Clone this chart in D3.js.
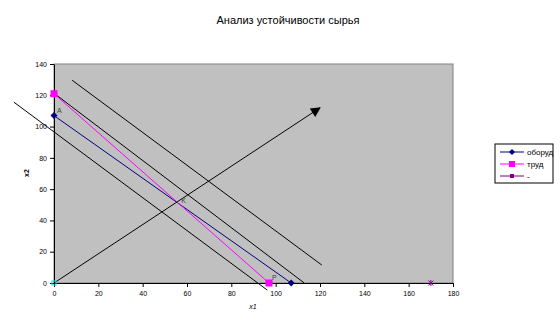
<!DOCTYPE html>
<html>
<head>
<meta charset="utf-8">
<script src="https://cdn.jsdelivr.net/npm/d3@7"></script>
<style>
  body { margin: 0; background: #fff; }
  text { font-family: "Liberation Sans", Arial, sans-serif; }
</style>
</head>
<body>
<div id="chart"></div>
<script>
// series from the chart
var seriesNames = ["оборуд", "труд", "-"];
var oborudPts = [[0, 107], [107, 0]];
var trudPts = [[0, 121], [97, 0]];
var thirdPts = [[170, 0]];
// drawn lines (level lines and objective arrow)
var levelLine1 = [[8.2, 129.6], [120.8, 11.5]];
var levelLine2 = [[0, 121.3], [112.9, 0]];
var levelLine3 = [[-18.1, 115.6], [96.2, -4.5]];
var arrowPts = [[0, 0], [120, 112]];
// point labels
var pointLabels = [
  { name: "A", x: 0, y: 107 },
  { name: "P", x: 97, y: 0 },
  { name: "K", x: 56, y: 49 }
];
var xTicks = [0, 20, 40, 60, 80, 100, 120, 140, 160, 180];
var yTicks = [0, 20, 40, 60, 80, 100, 120, 140];

function init() {
    var svgWidth = 560, svgHeight = 329;
    var left = 54, right = 453, top = 64, bottom = 283;

    var xScale = d3.scaleLinear().domain([0, 180]).range([left, right]);
    var yScale = d3.scaleLinear().domain([0, 140]).range([bottom, top]);

    var svg = d3.select("#chart").append("svg")
        .attr("width", svgWidth)
        .attr("height", svgHeight);

    var defs = svg.append("defs");
    defs.append("marker")
        .attr("id", "arrowhead")
        .attr("viewBox", "0 0 10 10")
        .attr("refX", 9).attr("refY", 5)
        .attr("markerWidth", 12).attr("markerHeight", 10)
        .attr("markerUnits", "userSpaceOnUse")
        .attr("orient", "auto")
        .append("path")
        .attr("d", "M0,0L10,5L0,10Z")
        .attr("fill", "#000");

    // title
    svg.append("text")
        .attr("x", 288).attr("y", 24)
        .attr("text-anchor", "middle")
        .attr("font-size", "11px")
        .text("Анализ устойчивости сырья");

    // plot area
    svg.append("rect")
        .attr("x", left).attr("y", top)
        .attr("width", right - left).attr("height", bottom - top)
        .attr("fill", "#c0c0c0")
        .attr("stroke", "#808080")
        .attr("stroke-width", 1);

    // axes
    var xAxis = d3.axisBottom(xScale).tickValues(xTicks).tickSize(4).tickSizeOuter(0);
    var gx = svg.append("g")
        .attr("transform", "translate(0," + bottom + ")")
        .call(xAxis);
    var yAxis = d3.axisLeft(yScale).tickValues(yTicks).tickSize(4).tickSizeOuter(0);
    var gy = svg.append("g")
        .attr("transform", "translate(" + left + ",0)")
        .call(yAxis);
    [gx, gy].forEach(function(g) {
        g.select(".domain").attr("stroke", "#000");
        g.selectAll(".tick line").attr("stroke", "#000");
        g.selectAll("text")
            .attr("font-size", "7px")
            .attr("font-family", "Liberation Sans, Arial, sans-serif")
            .attr("fill", "#000");
    });
    gx.selectAll("text").attr("dy", "0.9em");

    // axis titles
    svg.append("text")
        .attr("x", 253).attr("y", 309)
        .attr("text-anchor", "middle")
        .attr("font-size", "7px")
        .attr("font-style", "italic")
        .text("x1");
    svg.append("text")
        .attr("transform", "translate(29,173) rotate(-90)")
        .attr("text-anchor", "middle")
        .attr("font-size", "7px")
        .attr("font-weight", "bold")
        .text("x2");

    var line = d3.line().x(d => xScale(d[0])).y(d => yScale(d[1]));

    // level lines
    [levelLine1, levelLine2, levelLine3].forEach(function(pts) {
        svg.append("path")
            .attr("d", line(pts))
            .attr("fill", "none")
            .attr("stroke", "#000")
            .attr("stroke-width", 1);
    });

    // series
    svg.append("path")
        .attr("d", line(oborudPts))
        .attr("fill", "none")
        .attr("stroke", "#000080")
        .attr("stroke-width", 1);
    svg.append("path")
        .attr("d", line(trudPts))
        .attr("fill", "none")
        .attr("stroke", "#ff00ff")
        .attr("stroke-width", 1);

    // objective arrow
    svg.append("path")
        .attr("d", line(arrowPts))
        .attr("fill", "none")
        .attr("stroke", "#000")
        .attr("stroke-width", 1)
        .attr("marker-end", "url(#arrowhead)");
    svg.append("rect")
        .attr("x", xScale(0) - 2).attr("y", yScale(0) - 2)
        .attr("width", 4).attr("height", 4)
        .attr("fill", "none").attr("stroke", "#00e0e0");

    // markers
    svg.selectAll(".diamond")
        .data(oborudPts).enter()
        .append("path")
        .attr("class", "diamond")
        .attr("transform", d => "translate(" + xScale(d[0]) + "," + yScale(d[1]) + ")")
        .attr("d", "M0,-3.5L3.5,0L0,3.5L-3.5,0Z")
        .attr("fill", "#000080");
    svg.selectAll(".square")
        .data(trudPts).enter()
        .append("rect")
        .attr("class", "square")
        .attr("x", d => xScale(d[0]) - 3.5)
        .attr("y", d => yScale(d[1]) - 3.5)
        .attr("width", 7).attr("height", 7)
        .attr("fill", "#ff00ff");
    svg.selectAll(".star")
        .data(thirdPts).enter()
        .append("path")
        .attr("class", "star")
        .attr("transform", d => "translate(" + xScale(d[0]) + "," + yScale(d[1]) + ")")
        .attr("d", "M-2.5,-2.5L2.5,2.5M-2.5,2.5L2.5,-2.5M0,-3L0,3")
        .attr("stroke", "#800080")
        .attr("stroke-width", 1);

    // point labels
    svg.selectAll(".plabel")
        .data(pointLabels).enter()
        .append("text")
        .attr("class", "plabel")
        .attr("x", d => xScale(d.x) + 3)
        .attr("y", d => yScale(d.y) - 3)
        .attr("font-size", "7px")
        .attr("fill", "#404040")
        .text(d => d.name);

    // legend
    var legX = 495, legY = 144;
    svg.append("rect")
        .attr("x", legX).attr("y", legY)
        .attr("width", 58).attr("height", 39)
        .attr("fill", "#fff")
        .attr("stroke", "#000");
    var legColors = ["#000080", "#ff00ff", "#800080"];
    var legend = svg.selectAll(".legend")
        .data(seriesNames).enter()
        .append("g")
        .attr("class", "legend")
        .attr("transform", (d, i) => "translate(" + (legX + 5) + "," + (legY + 8 + i * 12) + ")");
    legend.append("line")
        .attr("x1", 0).attr("x2", 24)
        .attr("stroke", (d, i) => legColors[i])
        .attr("stroke-width", 1);
    legend.append("path")
        .attr("transform", "translate(12,0)")
        .attr("d", (d, i) => i === 0 ? "M0,-3L3,0L0,3L-3,0Z" : (i === 1 ? "M-3,-3H3V3H-3Z" : "M-2,-2H2V2H-2Z"))
        .attr("fill", (d, i) => legColors[i]);
    legend.append("text")
        .attr("x", 27).attr("y", 3)
        .attr("font-size", "8px")
        .text(d => d);
}
window.onload = init;
</script>
</body>
</html>
